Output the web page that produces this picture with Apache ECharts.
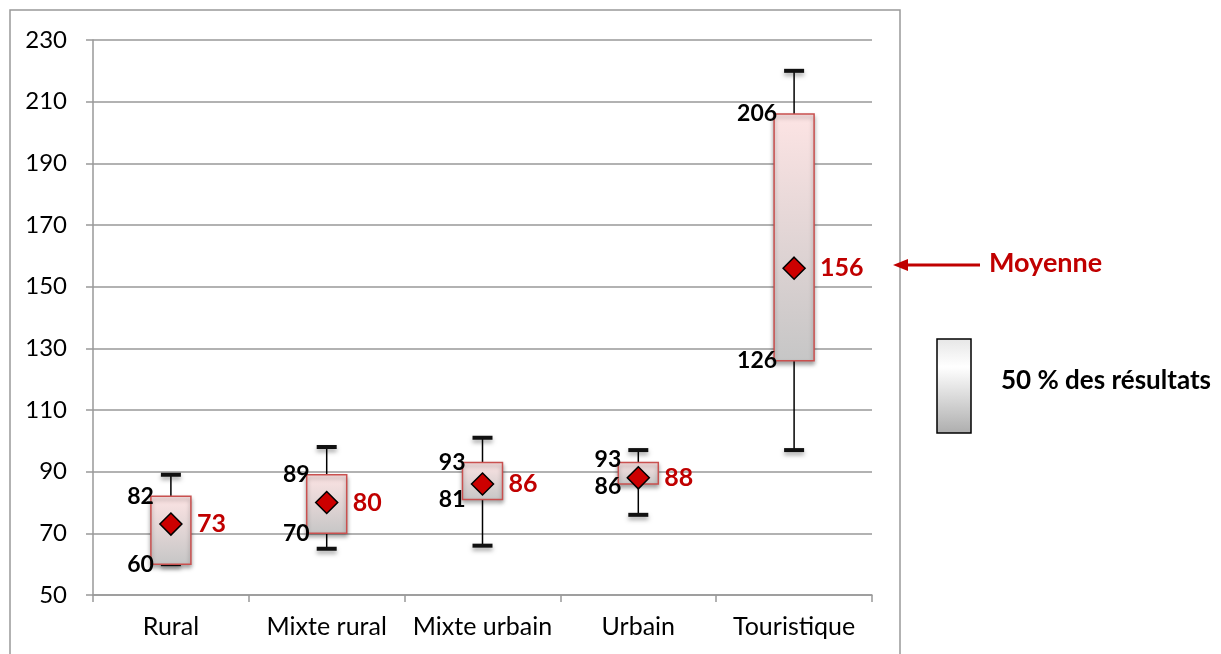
<!DOCTYPE html>
<html>
<head>
<meta charset="utf-8">
<script src="https://cdn.jsdelivr.net/npm/echarts@6/dist/echarts.min.js"></script>
<style>
html,body{margin:0;padding:0;background:#fff;}
#chart{width:1221px;height:654px;}
</style>
</head>
<body>
<div id="chart"></div>
<script>
const categories = ['Rural', 'Mixte rural', 'Mixte urbain', 'Urbain', 'Touristique'];
const minValues  = [60, 65, 66, 76, 97];
const q1Values   = [60, 70, 81, 86, 126];
const meanValues = [73, 80, 86, 88, 156];
const q3Values   = [82, 89, 93, 93, 206];
const maxValues  = [89, 98, 101, 97, 220];
const yMin = 50, yMax = 230, yStep = 20;
const legendText = '50 % des résultats';
const meanText = 'Moyenne';

const FONT = 'Lato, "Open Sans", sans-serif';
const data = categories.map((c, i) => [i, minValues[i], q1Values[i], meanValues[i], q3Values[i], maxValues[i]]);

function renderItem(params, api) {
  const i = api.value(0);
  const pMin = api.coord([i, api.value(1)]);
  const pQ1 = api.coord([i, api.value(2)]);
  const pMean = api.coord([i, api.value(3)]);
  const pQ3 = api.coord([i, api.value(4)]);
  const pMax = api.coord([i, api.value(5)]);
  const x = pMin[0];
  const bw = 40, cw = 20, ch = 4, d = 11;
  const shadow = {shadowBlur: 4, shadowOffsetY: 3, shadowColor: 'rgba(0,0,0,0.35)'};
  const mid = (pQ1[1] + pQ3[1]) / 2;
  const q3y = Math.min(pQ3[1], mid - 13.5);
  const q1y = Math.max(pQ1[1], mid + 13.5);
  return {
    type: 'group',
    children: [
      {type: 'line', shape: {x1: x, y1: pMax[1], x2: x, y2: pMin[1]}, style: {stroke: '#000', lineWidth: 1.5}},
      {type: 'rect', shape: {x: x - cw / 2, y: pMax[1] - ch / 2, width: cw, height: ch}, style: Object.assign({fill: '#111'}, shadow)},
      {type: 'rect', shape: {x: x - cw / 2, y: pMin[1] - ch / 2, width: cw, height: ch}, style: Object.assign({fill: '#111'}, shadow)},
      {type: 'rect', shape: {x: x - bw / 2, y: pQ3[1], width: bw, height: pQ1[1] - pQ3[1]},
        style: Object.assign({
          fill: new echarts.graphic.LinearGradient(0, 0, 0, 1, [
            {offset: 0, color: '#fde4e4'}, {offset: 1, color: '#c6c6c6'}
          ]),
          stroke: '#c9504f', lineWidth: 1.5
        }, shadow)},
      {type: 'polygon', shape: {points: [[x, pMean[1] - d], [x + d, pMean[1]], [x, pMean[1] + d], [x - d, pMean[1]]]},
        style: {fill: '#cc0000', stroke: '#000', lineWidth: 1.5}},
      {type: 'text', style: {text: String(api.value(4)), x: x - bw / 2 + 3, y: q3y, align: 'right', verticalAlign: 'middle',
        fill: '#000', font: 'bold 23px ' + FONT}},
      {type: 'text', style: {text: String(api.value(2)), x: x - bw / 2 + 3, y: q1y, align: 'right', verticalAlign: 'middle',
        fill: '#000', font: 'bold 23px ' + FONT}},
      {type: 'text', style: {text: String(api.value(3)), x: x + bw / 2 + 6, y: pMean[1], align: 'left', verticalAlign: 'middle',
        fill: '#c00000', font: 'bold 25px ' + FONT}}
    ]
  };
}

const chart = echarts.init(document.getElementById('chart'), null, {renderer: 'canvas'});
chart.setOption({
  animation: false,
  backgroundColor: '#fff',
  grid: {left: 93, right: 349, top: 40, bottom: 59, containLabel: false},
  xAxis: {
    type: 'category', data: categories, boundaryGap: true,
    axisLine: {lineStyle: {color: '#999', width: 1.5}},
    axisTick: {show: true, length: 7, interval: 0, lineStyle: {color: '#999', width: 1.5}},
    axisLabel: {color: '#000', fontSize: 25, fontFamily: FONT, margin: 19, interval: 0, hideOverlap: false},
    splitLine: {show: false}
  },
  yAxis: {
    type: 'value', min: yMin, max: yMax, interval: yStep,
    axisLine: {show: true, lineStyle: {color: '#999', width: 1.5}},
    axisTick: {show: true, length: 7, lineStyle: {color: '#999', width: 1.5}},
    axisLabel: {color: '#000', fontSize: 24, fontFamily: FONT, margin: 26},
    splitLine: {show: true, lineStyle: {color: '#999', width: 1.5}}
  },
  series: [{
    type: 'custom',
    renderItem: renderItem,
    data: data,
    encode: {x: 0, y: [1, 2, 3, 4, 5]},
    z: 3
  }],
  graphic: [
    {type: 'polyline', shape: {points: [[10, 654], [10, 10], [900, 10], [900, 654]]},
      style: {stroke: '#999', lineWidth: 1.5, fill: null}, silent: true},
    {type: 'line', shape: {x1: 905, y1: 265, x2: 980, y2: 265}, style: {stroke: '#c00000', lineWidth: 3}},
    {type: 'polygon', shape: {points: [[893, 265], [908, 259], [908, 271]]}, style: {fill: '#c00000'}},
    {type: 'text', style: {text: meanText, x: 989, y: 263, verticalAlign: 'middle', fill: '#c00000', font: 'bold 27px ' + FONT}},
    {type: 'rect', shape: {x: 937, y: 339, width: 34, height: 94},
      style: {fill: new echarts.graphic.LinearGradient(0, 0, 0, 1, [
        {offset: 0, color: '#e6e6e6'}, {offset: 0.3, color: '#ffffff'}, {offset: 1, color: '#adadad'}
      ]), stroke: '#000', lineWidth: 1.5}},
    {type: 'text', style: {text: legendText, x: 1001, y: 381, verticalAlign: 'middle', fill: '#000', font: 'bold 26px ' + FONT}}
  ]
});
</script>
</body>
</html>
